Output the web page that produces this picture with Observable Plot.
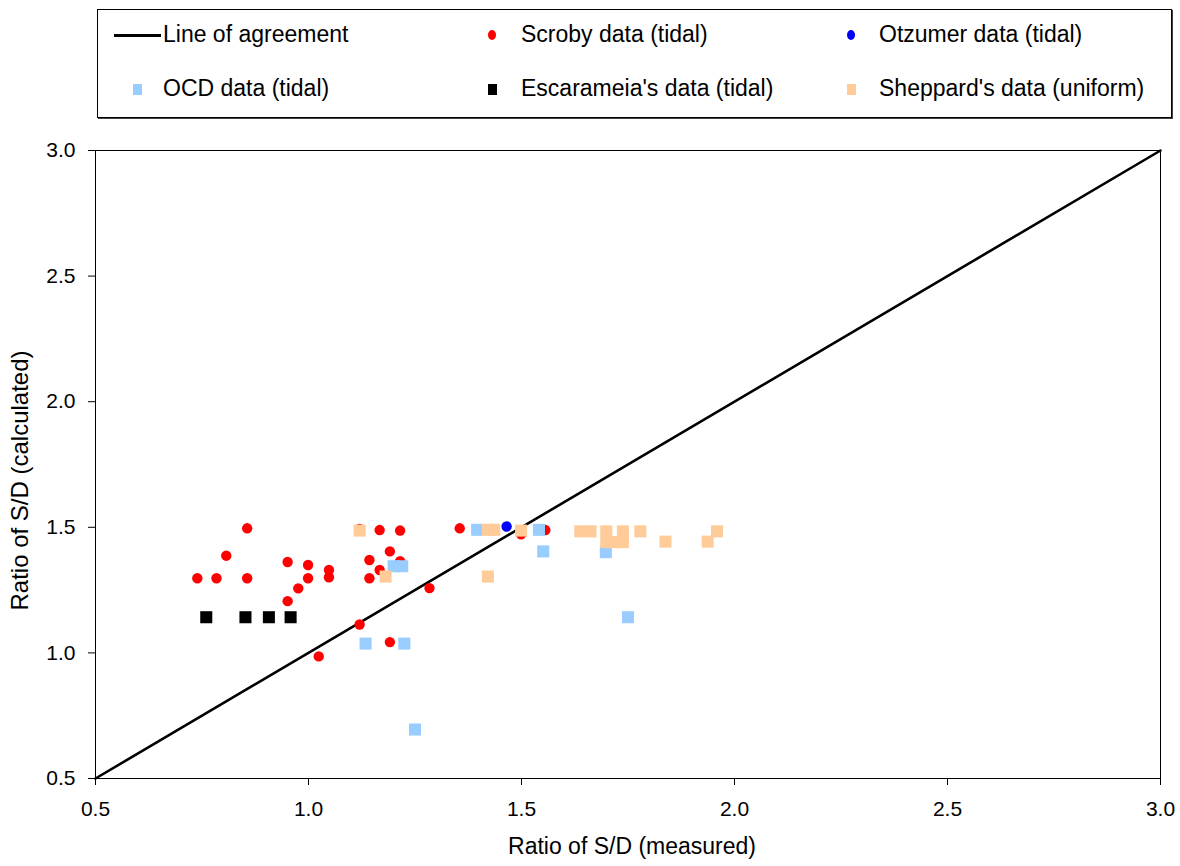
<!DOCTYPE html>
<html>
<head>
<meta charset="utf-8">
<script src="https://cdn.jsdelivr.net/npm/d3@7"></script>
<script src="https://cdn.jsdelivr.net/npm/@observablehq/plot@0.6"></script>
<style>
  html, body { margin: 0; padding: 0; background: #fff; }
  #wrap { position: relative; width: 1180px; height: 866px; font-family: "Liberation Sans", Arial, sans-serif; color: #000; }
  #legend { position: relative; width: 1180px; height: 130px; }
  #legend .box { position: absolute; left: 97px; top: 9px; width: 1073px; height: 107px; border: 1px solid #000; box-shadow: 1px 1px 0 #444; }
  #legend .item { position: absolute; font-size: 23px; line-height: 23px; white-space: nowrap; }
  #legend .sym { position: absolute; }
  svg { display: block; }
</style>
</head>
<body>
<div id="wrap">
  <div id="legend"></div>
  <div id="chart"></div>
</div>
<script>
// ---- Data ----
const agreeX = [0.5, 3.0];
const agreeY = [0.5, 3.0];

const scrobyX = [0.739, 0.784, 0.807, 0.856, 0.856, 0.951, 0.951, 0.976, 0.999, 0.999, 1.024, 1.048, 1.048, 1.120, 1.120, 1.143, 1.143, 1.167, 1.167, 1.191, 1.191, 1.215, 1.215, 1.284, 1.355, 1.499, 1.556];
const scrobyY = [1.297, 1.297, 1.387, 1.496, 1.297, 1.362, 1.206, 1.257, 1.350, 1.297, 0.986, 1.330, 1.301, 1.113, 1.493, 1.370, 1.297, 1.330, 1.489, 1.404, 1.043, 1.487, 1.365, 1.258, 1.496, 1.472, 1.489];

const otzumerX = [1.465];
const otzumerY = [1.503];

const ocdX = [1.134, 1.200, 1.220, 1.225, 1.250, 1.396, 1.541, 1.551, 1.698, 1.750];
const ocdY = [1.037, 1.345, 1.345, 1.037, 0.695, 1.490, 1.490, 1.404, 1.401, 1.142];

const escarameiaX = [0.760, 0.852, 0.907, 0.958];
const escarameiaY = [1.142, 1.142, 1.142, 1.142];

const sheppardX = [1.120, 1.181, 1.421, 1.421, 1.436, 1.499, 1.638, 1.662, 1.699, 1.738, 1.699, 1.718, 1.738, 1.779, 1.838, 1.937, 1.959];
const sheppardY = [1.487, 1.304, 1.304, 1.490, 1.490, 1.487, 1.484, 1.484, 1.484, 1.484, 1.441, 1.441, 1.441, 1.484, 1.443, 1.443, 1.484];

const axisTicks = [0.5, 1.0, 1.5, 2.0, 2.5, 3.0];
const xLabel = "Ratio of S/D (measured)";
const yLabel = "Ratio of S/D (calculated)";

const legendItems = [
  {label: "Line of agreement", kind: "line", color: "#000000"},
  {label: "Scroby data (tidal)", kind: "dot", color: "#ff0000"},
  {label: "Otzumer data (tidal)", kind: "dot", color: "#0000ff"},
  {label: "OCD data (tidal)", kind: "square", color: "#99ccff"},
  {label: "Escarameia's data (tidal)", kind: "square", color: "#000000"},
  {label: "Sheppard's data (uniform)", kind: "square", color: "#ffcc99"}
];

// ---- Build tables ----
const pts = (xs, ys) => xs.map((x, i) => ({x, y: ys[i]}));
const agree = pts(agreeX, agreeY);
const scroby = pts(scrobyX, scrobyY);
const otzumer = pts(otzumerX, otzumerY);
const ocd = pts(ocdX, ocdY);
const escarameia = pts(escarameiaX, escarameiaY);
const sheppard = pts(sheppardX, sheppardY);

// ---- Legend ----
const legend = document.getElementById("legend");
const box = document.createElement("div");
box.className = "box";
legend.appendChild(box);
const colX = [163, 521, 879];
const symX = [137, 492, 851];
const rowY = [35, 89];
legendItems.forEach((d, i) => {
  const col = i % 3, row = Math.floor(i / 3);
  const t = document.createElement("div");
  t.className = "item";
  t.textContent = d.label;
  t.style.left = colX[col] + "px";
  t.style.top = (rowY[row] - 12) + "px";
  legend.appendChild(t);
  const s = document.createElement("div");
  s.className = "sym";
  if (d.kind === "line") {
    s.style.left = "114px"; s.style.width = "47px";
    s.style.top = (rowY[row] - 1) + "px"; s.style.height = "2.5px";
    s.style.background = d.color;
  } else if (d.kind === "dot") {
    s.style.left = (symX[col] - 4) + "px"; s.style.width = "8px";
    s.style.top = (rowY[row] - 5) + "px"; s.style.height = "10px";
    s.style.borderRadius = "50%";
    s.style.background = d.color;
  } else {
    s.style.left = (symX[col] - 4) + "px"; s.style.width = "9px";
    s.style.top = (rowY[row] - 5) + "px"; s.style.height = "11px";
    s.style.background = d.color;
  }
  legend.appendChild(s);
});

// ---- Chart ----
const sq = 6.8; // square symbol radius
const chart = Plot.plot({
  width: 1180,
  height: 736,
  marginLeft: 95,
  marginRight: 20,
  marginTop: 20,
  marginBottom: 88,
  style: {fontFamily: "'Liberation Sans', Arial, sans-serif", fontSize: "21px", color: "#000", background: "#fff", overflow: "visible"},
  x: {domain: [0.5, 3.0]},
  y: {domain: [0.5, 3.0]},
  marks: [
    Plot.frame({stroke: "#000", strokeWidth: 1}),
    Plot.axisX({ticks: axisTicks, tickFormat: d3.format(".1f"), tickSize: 7, tickPadding: 16, label: null}),
    Plot.axisY({ticks: axisTicks, tickFormat: d3.format(".1f"), tickSize: 7, tickPadding: 13, label: null}),
    Plot.line(agree, {x: "x", y: "y", stroke: "#000", strokeWidth: 2.6}),
    Plot.dot(scroby, {x: "x", y: "y", r: 5.2, fill: "#ff0000", stroke: null}),
    Plot.dot(ocd, {x: "x", y: "y", r: sq, symbol: "square", fill: "#99ccff", stroke: null}),
    Plot.dot(escarameia, {x: "x", y: "y", r: sq, symbol: "square", fill: "#000000", stroke: null}),
    Plot.dot(sheppard, {x: "x", y: "y", r: sq, symbol: "square", fill: "#ffcc99", stroke: null}),
    Plot.dot(otzumer, {x: "x", y: "y", r: 5.2, fill: "#0000ff", stroke: null}),
    Plot.text([xLabel], {frameAnchor: "bottom", textAnchor: "middle", dx: 4, dy: 75, fontSize: 23, text: d => d}),
    Plot.text([yLabel], {frameAnchor: "left", textAnchor: "middle", rotate: -90, dx: -75, dy: 16, fontSize: 24, text: d => d, letterSpacing: 2.2})
  ]
});
document.getElementById("chart").appendChild(chart);
</script>
</body>
</html>
